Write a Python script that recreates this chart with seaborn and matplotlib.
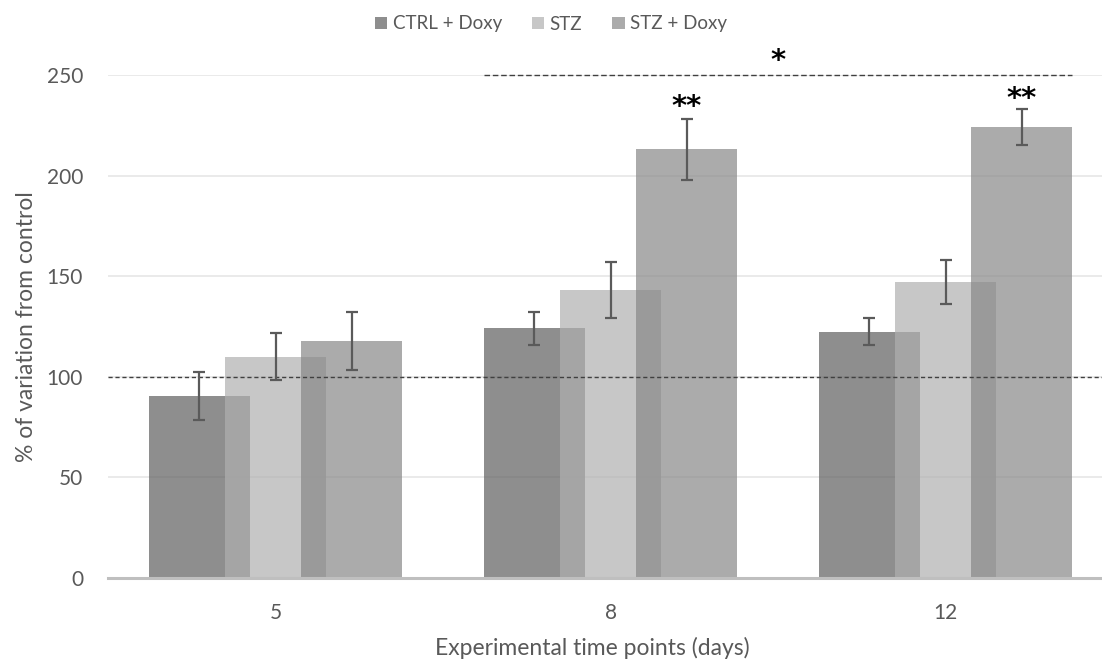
import numpy as np
import pandas as pd
import matplotlib
matplotlib.use("Agg")
import matplotlib.pyplot as plt
from matplotlib.patches import Patch
import seaborn as sns

# ---- data ----
days = ["5", "8", "12"]
series = ["CTRL + Doxy", "STZ", "STZ + Doxy"]
ctrl_doxy = [90.3, 124.1, 122.4]
ctrl_doxy_err = [12.0, 8.3, 6.8]
stz = [110.0, 143.3, 147.3]
stz_err = [11.6, 13.9, 11.0]
stz_doxy = [117.9, 213.1, 224.3]
stz_doxy_err = [14.3, 15.2, 8.9]

sns.set_theme(style="white")
plt.rcParams["font.family"] = ["Lato", "DejaVu Sans"]

fig = plt.figure(figsize=(11.02, 6.6), dpi=100)
W, H = 1102, 660
ax = fig.add_axes([108 / W, 1 - 578 / H, 1005 / W, (578 - 75) / H])

colors = ["#5f5f5f", "#b0b0b0", "#888888"]
alpha = 0.7
bar_w = 0.30
step = 0.227
pos = np.arange(len(days))
all_vals = [ctrl_doxy, stz, stz_doxy]
all_errs = [ctrl_doxy_err, stz_err, stz_doxy_err]

ax.set_axisbelow(True)
for yv in [50, 100, 150, 200, 250]:
    ax.axhline(yv, color="#e6e6e6", lw=1.2, zorder=0)

for i, (vals, errs, col) in enumerate(zip(all_vals, all_errs, colors)):
    x = pos + (i - 1) * step
    df = pd.DataFrame({"x": x, "y": vals})
    sns.barplot(data=df, x="x", y="y", native_scale=True, width=bar_w,
                color=col, alpha=alpha, saturation=1, errorbar=None,
                linewidth=0, ax=ax, zorder=2)

for i, (vals, errs) in enumerate(zip(all_vals, all_errs)):
    x = pos + (i - 1) * step
    ax.errorbar(x, vals, yerr=errs, fmt="none", ecolor="#5a5a5a",
                elinewidth=1.6, capsize=4, capthick=1.6, zorder=4)

# reference line at 100
ax.axhline(100, color="#404040", lw=1.0, ls=(0, (3, 2)), zorder=3)
# significance bracket
ax.plot([1 - step - bar_w / 2, 2 + step + bar_w / 2], [250, 250],
        color="#404040", lw=1.0, ls=(0, (4, 2)), zorder=3, clip_on=False)
star_kw = dict(ha="center", va="center", fontsize=21, color="black",
               family=["DejaVu Sans"], fontweight="bold")
ax.text(1.5, 257, "*", **star_kw)
ax.text(1 + step, 234, "**", **star_kw)
ax.text(2 + step, 238, "**", **star_kw)

ax.set_xlim(-0.5, 2.5)
ax.set_ylim(0, 250)
ax.set_xticks(pos)
ax.set_xticklabels(days)
ax.set_yticks([0, 50, 100, 150, 200, 250])
ax.tick_params(axis="both", length=0, labelsize=15, colors="#595959")
ax.tick_params(axis="y", pad=18)
ax.tick_params(axis="x", pad=18)

for s in ["top", "right", "left"]:
    ax.spines[s].set_visible(False)
ax.spines["bottom"].set_color("#bfbfbf")
ax.spines["bottom"].set_linewidth(2.2)
ax.spines["bottom"].set_zorder(5)

ax.set_xlabel("Experimental time points (days)", fontsize=16.5, color="#595959")
ax.set_ylabel("% of variation from control", fontsize=16.5, color="#595959")
ax.xaxis.set_label_coords(0.482, -0.118)
ax.yaxis.set_label_coords(-0.071, 0.5)

handles = [Patch(facecolor=c, alpha=alpha, edgecolor="none") for c in colors]
fig.legend(handles, series, loc="center", bbox_to_anchor=(0.5, 1 - 24 / H),
           ncol=3, frameon=False, fontsize=13.5, labelcolor="#595959",
           handlelength=0.65, handleheight=0.65, handletextpad=0.3,
           columnspacing=1.6)

fig.savefig("out.png", dpi=100)
